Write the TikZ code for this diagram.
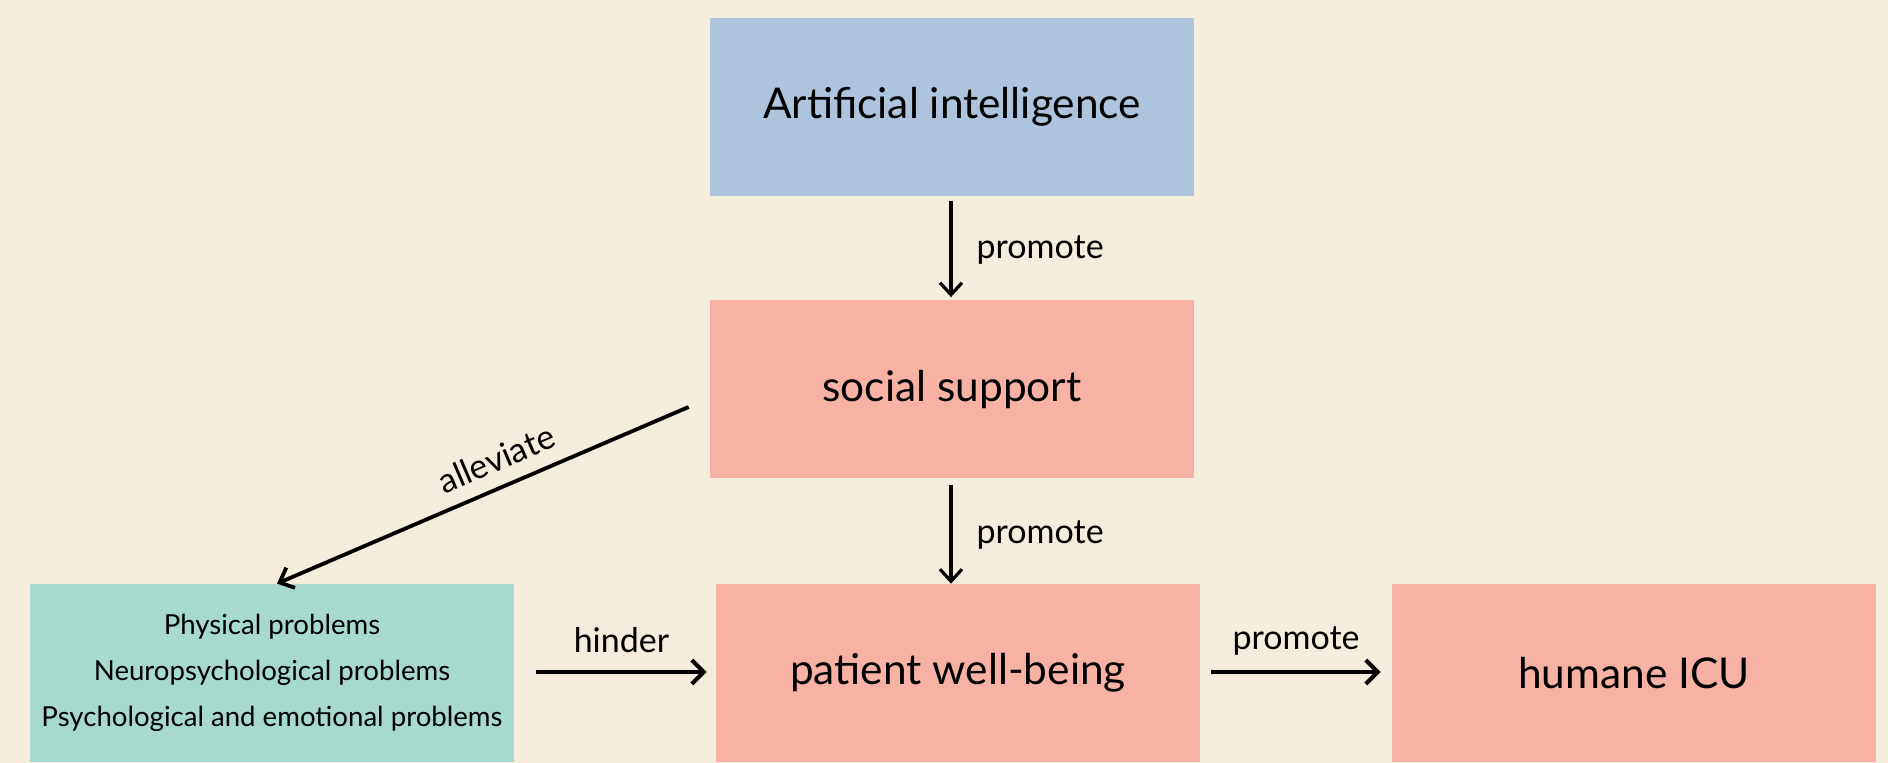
\documentclass[tikz,border=0pt]{standalone}
\usepackage{fontspec}
\setmainfont{Lato}
\usetikzlibrary{arrows.meta,calc}
\definecolor{bg}{RGB}{244,236,221}
\definecolor{aiblue}{RGB}{173,196,220}
\definecolor{pinkbox}{RGB}{247,178,163}
\definecolor{greenbox}{RGB}{166,218,206}
\tikzset{
  box/.style={draw=none, minimum width=242pt, minimum height=89pt, inner sep=0pt, align=center, font=\fontsize{21.2}{25}\selectfont},
  arr/.style={-{Straight Barb[length=6pt,width=11pt,line width=1.6pt]}, line width=1.6pt, black},
  darr/.style={-{Straight Barb[length=6pt,width=11pt,line width=1.9pt]}, line width=1.9pt, black},
  harr/.style={-{Straight Barb[length=6pt,width=12pt,line width=2pt]}, line width=2.2pt, black},
  lbl/.style={font=\fontsize{17}{20}\selectfont, inner sep=0pt}
}
\begin{document}
\begin{tikzpicture}[x=0.5pt,y=-0.5pt]
\fill[bg] (0,0) rectangle (1888,763);
\useasboundingbox (0,0) rectangle (1888,763);
\node[box, fill=aiblue] (ai) at (952,107) {Artificial intelligence};
\node[box, fill=pinkbox] (ss) at (952,389.5) {social support};
\node[box, fill=greenbox, font=\fontsize{13.8}{23}\selectfont] (pr) at (272,673) {Physical problems\\Neuropsychological problems\\Psychological and emotional problems};
\node[box, fill=pinkbox] (pw) at (958,673) {patient well-being};
\node[box, fill=pinkbox] (icu) at (1634,673) {humane ICU};
\draw[arr] ($(ai.south)+(-1,5)$) -- node[lbl, right, xshift=12pt, yshift=-0.3pt] {promote} ($(ss.north)+(-1,-3)$);
\draw[arr] ($(ss.south)+(-1,6)$) -- node[lbl, right, xshift=12pt, yshift=-0.3pt] {promote} ($(pw.north)+(-7,0)$);
\draw[darr] ($(ss.west)+(-21,17.5)$) -- node[lbl, pos=0.44, sloped, above, yshift=7pt] {alleviate} ($(pr.north)+(5,0)$);
\draw[harr] ($(pr.east)+(22,-1)$) -- node[lbl, above, yshift=8.5pt] {hinder} ($(pw.west)+(-9,-1)$);
\draw[harr] ($(pw.east)+(11,-1)$) -- node[lbl, above, yshift=7pt] {promote} ($(icu.west)+(-11,-1)$);
\end{tikzpicture}
\end{document}
